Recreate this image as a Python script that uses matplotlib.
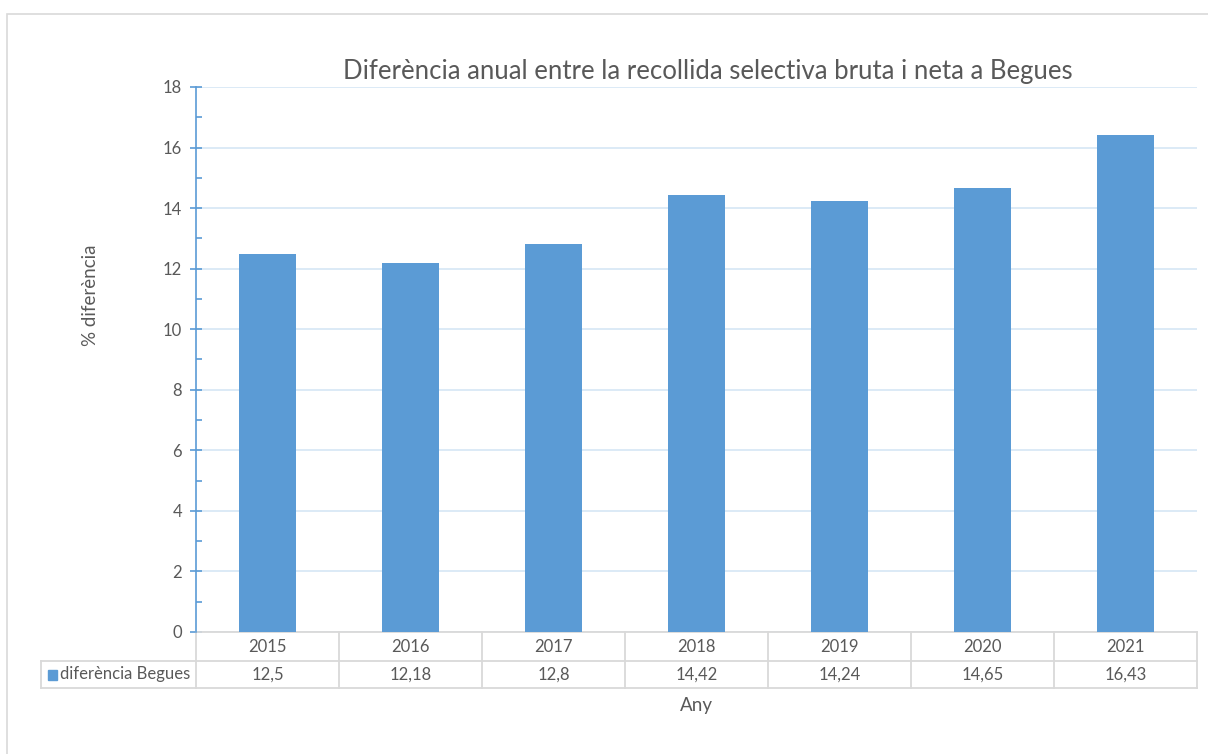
import matplotlib.pyplot as plt
import matplotlib.transforms as mtransforms
from matplotlib.patches import Rectangle

years = ["2015", "2016", "2017", "2018", "2019", "2020", "2021"]
values = [12.5, 12.18, 12.8, 14.42, 14.24, 14.65, 16.43]
value_labels = ["12,5", "12,18", "12,8", "14,42", "14,24", "14,65", "16,43"]
series_name = "diferència Begues"

bar_color = "#5B9BD5"
grid_color = "#D6E6F5"
table_color = "#D9D9D9"
text_color = "#595959"

plt.rcParams["font.family"] = ["Lato", "DejaVu Sans"]

fig = plt.figure(figsize=(12.08, 7.54), dpi=100)
W, H = 1208, 754

# outer frame of the chart area
fig.patches.append(Rectangle((7 / W, -0.01), 1.2, 1 - 14 / H + 0.01, transform=fig.transFigure,
                             fill=False, edgecolor="#D9D9D9", linewidth=1.2))

ax = fig.add_axes([196 / W, 1 - 632 / H, 1001 / W, 545 / H])
x = list(range(len(years)))
ax.bar(x, values, width=0.4, color=bar_color, zorder=3)

ax.set_xlim(-0.5, len(years) - 0.5)
ax.set_ylim(0, 18)
ax.set_yticks(range(0, 19, 2))
ax.set_yticks(range(1, 18, 2), minor=True)
ax.yaxis.grid(True, color=grid_color, linewidth=1.2, zorder=0)
ax.set_xticks([])

for side in ["top", "right", "bottom"]:
    ax.spines[side].set_visible(False)
ax.spines["left"].set_color(bar_color)
ax.spines["left"].set_linewidth(1.2)
ax.tick_params(axis="y", which="major", direction="inout", length=8, width=1.2,
               color=bar_color, labelcolor=text_color, labelsize=12, pad=6)
ax.tick_params(axis="y", which="minor", direction="in", length=4, width=1.2, color=bar_color)

# data table below the axis
px = 1 / 545  # axes fraction per pixel
row1 = -29 * px
row2 = -56 * px
head_left = -0.5 - 155 / 143
trans = mtransforms.blended_transform_factory(ax.transData, ax.transAxes)
line_kw = dict(color=table_color, linewidth=1.3, transform=trans, clip_on=False)

ax.plot([-0.5, 6.5], [0, 0], **line_kw)
ax.plot([head_left, 6.5], [row1, row1], **line_kw)
ax.plot([head_left, 6.5], [row2, row2], **line_kw)
ax.plot([head_left, head_left], [row1, row2], **line_kw)
for i in range(len(years) + 1):
    ax.plot([i - 0.5, i - 0.5], [0, row2], **line_kw)

for i, (yr, lab) in enumerate(zip(years, value_labels)):
    ax.text(i, row1 / 2, yr, ha="center", va="center", transform=trans,
            fontsize=12, color=text_color)
    ax.text(i, (row1 + row2) / 2, lab, ha="center", va="center", transform=trans,
            fontsize=12, color=text_color)

fig.patches.append(Rectangle((48 / W, 1 - 680 / H), 9 / W, 10 / H, transform=fig.transFigure,
                             color=bar_color))
fig.text(60 / W, 1 - 674.5 / H, series_name, ha="left", va="center",
         fontsize=12, color=text_color)

fig.text(696 / W, 1 - 705 / H, "Any", ha="center", va="center", fontsize=13.5, color=text_color)
fig.text(90 / W, 1 - 295 / H, "% diferència", ha="center", va="center", rotation=90,
         fontsize=13.5, color=text_color)
fig.text(708 / W, 1 - 71 / H, "Diferència anual entre la recollida selectiva bruta i neta a Begues",
         ha="center", va="center", fontsize=18.5, color=text_color)

fig.savefig("out.png", dpi=100)
